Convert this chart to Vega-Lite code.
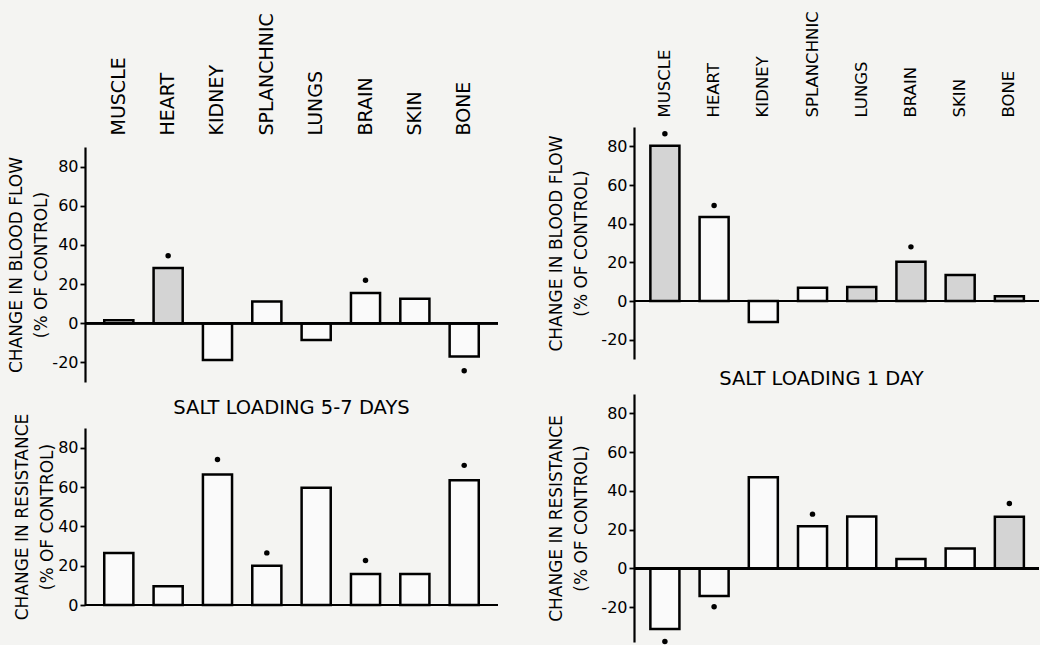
{
  "$schema": "https://vega.github.io/schema/vega-lite/v6.json",
  "background": "#f4f4f2",
  "padding": {"left": 7, "top": 10, "right": 0, "bottom": 0},
  "config": {
    "font": "DejaVu Sans",
    "view": {"stroke": null},
    "axisY": {
      "domainColor": "black", "domainWidth": 2.2, "tickColor": "black", "tickWidth": 1.8, "tickSize": 5,
      "labelFontSize": 16, "labelColor": "black", "labelPadding": 2, "grid": false,
      "titleFontSize": 17, "titleFontWeight": "normal", "titleColor": "black", "titlePadding": 1, "titleLineHeight": 25
    },
    "title": {"fontSize": 19.5, "fontWeight": "normal", "color": "black", "anchor": "middle"}
  },
  "datasets": {
    "d": [
      {"panel": "flow57", "organ": "MUSCLE", "value": 1.5, "shade": "open"},
      {"panel": "flow57", "organ": "HEART", "value": 28.2, "sig": 34.5, "shade": "shaded"},
      {"panel": "flow57", "organ": "KIDNEY", "value": -18.8, "shade": "open"},
      {"panel": "flow57", "organ": "SPLANCHNIC", "value": 11.1, "shade": "open"},
      {"panel": "flow57", "organ": "LUNGS", "value": -8.5, "shade": "open"},
      {"panel": "flow57", "organ": "BRAIN", "value": 15.4, "sig": 21.9, "shade": "open"},
      {"panel": "flow57", "organ": "SKIN", "value": 12.5, "shade": "open"},
      {"panel": "flow57", "organ": "BONE", "value": -17, "sig": -24.3, "shade": "open"},
      {"panel": "res57", "organ": "MUSCLE", "value": 26.5, "shade": "open"},
      {"panel": "res57", "organ": "HEART", "value": 9.5, "shade": "open"},
      {"panel": "res57", "organ": "KIDNEY", "value": 66.4, "sig": 74, "shade": "open"},
      {"panel": "res57", "organ": "SPLANCHNIC", "value": 20, "sig": 26.5, "shade": "open"},
      {"panel": "res57", "organ": "LUNGS", "value": 59.6, "shade": "open"},
      {"panel": "res57", "organ": "BRAIN", "value": 15.8, "sig": 22.6, "shade": "open"},
      {"panel": "res57", "organ": "SKIN", "value": 15.8, "shade": "open"},
      {"panel": "res57", "organ": "BONE", "value": 63.4, "sig": 71, "shade": "open"},
      {"panel": "flow1", "organ": "MUSCLE", "value": 80.3, "sig": 86.5, "shade": "shaded"},
      {"panel": "flow1", "organ": "HEART", "value": 43.4, "sig": 49.4, "shade": "open"},
      {"panel": "flow1", "organ": "KIDNEY", "value": -10.8, "shade": "open"},
      {"panel": "flow1", "organ": "SPLANCHNIC", "value": 6.9, "shade": "open"},
      {"panel": "flow1", "organ": "LUNGS", "value": 7.2, "shade": "shaded"},
      {"panel": "flow1", "organ": "BRAIN", "value": 20.3, "sig": 28, "shade": "shaded"},
      {"panel": "flow1", "organ": "SKIN", "value": 13.4, "shade": "shaded"},
      {"panel": "flow1", "organ": "BONE", "value": 2.5, "shade": "shaded"},
      {"panel": "res1", "organ": "MUSCLE", "value": -31.3, "sig": -37.8, "shade": "open"},
      {"panel": "res1", "organ": "HEART", "value": -14.3, "sig": -19.8, "shade": "open"},
      {"panel": "res1", "organ": "KIDNEY", "value": 47, "shade": "open"},
      {"panel": "res1", "organ": "SPLANCHNIC", "value": 21.7, "sig": 28, "shade": "open"},
      {"panel": "res1", "organ": "LUNGS", "value": 26.8, "shade": "open"},
      {"panel": "res1", "organ": "BRAIN", "value": 4.8, "shade": "open"},
      {"panel": "res1", "organ": "SKIN", "value": 10.3, "shade": "open"},
      {"panel": "res1", "organ": "BONE", "value": 26.7, "sig": 33.5, "shade": "shaded"}
    ]
  },
  "data": {"name": "d"},
  "spacing": 48,
  "hconcat": [
    {
      "bounds": "flush",
      "spacing": 19,
      "vconcat": [
        {"width": 413, "height": 1, "data": {"values": []}, "mark": {"type": "point"}, "encoding": {}},
        {
          "bounds": "flush",
          "spacing": 46,
          "vconcat": [
            {
              "width": 413, "height": 235,
              "transform": [{"filter": "datum.panel === 'flow57'"}],
              "layer": [
                {
                  "mark": {"type": "bar", "stroke": "black", "strokeWidth": 2.5},
                  "encoding": {
                    "x": {"field": "organ", "type": "nominal", "sort": ["MUSCLE","HEART","KIDNEY","SPLANCHNIC","LUNGS","BRAIN","SKIN","BONE"],
                      "scale": {"paddingInner": 0.41, "paddingOuter": 0.39, "align": 0.5},
                      "axis": {"orient": "top", "labelAngle": -90, "labelAlign": "left", "labelBaseline": "middle", "labelFontSize": 19, "labelPadding": 12, "labelColor": "black", "domain": false, "ticks": false, "title": null}},
                    "y": {"field": "value", "type": "quantitative", "scale": {"domain": [-30, 90], "nice": false, "zero": false},
                      "axis": {"values": [-20, 0, 20, 40, 60, 80], "labelExpr": "replace(datum.label, '\u2212', '-')", "title": ["CHANGE IN BLOOD FLOW", "(% OF CONTROL)"]}},
                    "fill": {"field": "shade", "type": "nominal", "scale": {"domain": ["open", "shaded"], "range": ["#fafafa", "#d4d4d4"]}, "legend": null}
                  }
                },
                {"mark": {"type": "rule", "color": "black", "strokeWidth": 2}, "encoding": {"y": {"datum": 0}}},
                {
                  "mark": {"type": "point", "filled": true, "color": "black", "size": 30, "opacity": 1},
                  "encoding": {
                    "x": {"field": "organ", "type": "nominal", "sort": ["MUSCLE","HEART","KIDNEY","SPLANCHNIC","LUNGS","BRAIN","SKIN","BONE"]},
                    "y": {"field": "sig", "type": "quantitative", "axis": {"values": [-20, 0, 20, 40, 60, 80], "labelExpr": "replace(datum.label, '\u2212', '-')", "title": ["CHANGE IN BLOOD FLOW", "(% OF CONTROL)"]}}
                  }
                }
              ]
            },
            {
              "width": 413, "height": 177,
              "title": {"text": "SALT LOADING 5-7 DAYS", "offset": -5},
              "transform": [{"filter": "datum.panel === 'res57'"}],
              "layer": [
                {
                  "mark": {"type": "bar", "stroke": "black", "strokeWidth": 2.5},
                  "encoding": {
                    "x": {"field": "organ", "type": "nominal", "sort": ["MUSCLE","HEART","KIDNEY","SPLANCHNIC","LUNGS","BRAIN","SKIN","BONE"],
                      "scale": {"paddingInner": 0.41, "paddingOuter": 0.39, "align": 0.5}, "axis": null},
                    "y": {"field": "value", "type": "quantitative", "scale": {"domain": [0, 90], "nice": false},
                      "axis": {"values": [0, 20, 40, 60, 80], "title": ["CHANGE IN RESISTANCE", "(% OF CONTROL)"]}},
                    "fill": {"field": "shade", "type": "nominal", "scale": {"domain": ["open", "shaded"], "range": ["#fafafa", "#d4d4d4"]}, "legend": null}
                  }
                },
                {"mark": {"type": "rule", "color": "black", "strokeWidth": 2}, "encoding": {"y": {"datum": 0}}},
                {
                  "mark": {"type": "point", "filled": true, "color": "black", "size": 30, "opacity": 1},
                  "encoding": {
                    "x": {"field": "organ", "type": "nominal", "sort": ["MUSCLE","HEART","KIDNEY","SPLANCHNIC","LUNGS","BRAIN","SKIN","BONE"]},
                    "y": {"field": "sig", "type": "quantitative", "axis": {"values": [0, 20, 40, 60, 80], "title": ["CHANGE IN RESISTANCE", "(% OF CONTROL)"]}}
                  }
                }
              ]
            }
          ]
        }
      ]
    },
    {
      "bounds": "flush",
      "spacing": 35,
      "vconcat": [
        {
          "width": 405, "height": 232,
          "transform": [{"filter": "datum.panel === 'flow1'"}],
          "layer": [
            {
              "mark": {"type": "bar", "stroke": "black", "strokeWidth": 2.5},
              "encoding": {
                "x": {"field": "organ", "type": "nominal", "sort": ["MUSCLE","HEART","KIDNEY","SPLANCHNIC","LUNGS","BRAIN","SKIN","BONE"],
                  "scale": {"paddingInner": 0.41, "paddingOuter": 0.32, "align": 0.52},
                  "axis": {"orient": "top", "labelAngle": -90, "labelAlign": "left", "labelBaseline": "middle", "labelFontSize": 16.5, "labelPadding": 10, "labelColor": "black", "domain": false, "ticks": false, "title": null}},
                "y": {"field": "value", "type": "quantitative", "scale": {"domain": [-30, 90], "nice": false, "zero": false},
                  "axis": {"values": [-20, 0, 20, 40, 60, 80], "labelExpr": "replace(datum.label, '\u2212', '-')", "titlePadding": 10, "title": ["CHANGE IN BLOOD FLOW", "(% OF CONTROL)"]}},
                "fill": {"field": "shade", "type": "nominal", "scale": {"domain": ["open", "shaded"], "range": ["#fafafa", "#d4d4d4"]}, "legend": null}
              }
            },
            {"mark": {"type": "rule", "color": "black", "strokeWidth": 2}, "encoding": {"y": {"datum": 0}}},
            {
              "mark": {"type": "point", "filled": true, "color": "black", "size": 30, "opacity": 1},
              "encoding": {
                "x": {"field": "organ", "type": "nominal", "sort": ["MUSCLE","HEART","KIDNEY","SPLANCHNIC","LUNGS","BRAIN","SKIN","BONE"]},
                "y": {"field": "sig", "type": "quantitative", "axis": {"values": [-20, 0, 20, 40, 60, 80], "labelExpr": "replace(datum.label, '\u2212', '-')", "titlePadding": 10, "title": ["CHANGE IN BLOOD FLOW", "(% OF CONTROL)"]}}
              }
            }
          ]
        },
        {
          "width": 405, "height": 248,
          "title": {"text": "SALT LOADING 1 DAY", "offset": 5, "dx": -15},
          "transform": [{"filter": "datum.panel === 'res1'"}],
          "layer": [
            {
              "mark": {"type": "bar", "stroke": "black", "strokeWidth": 2.5},
              "encoding": {
                "x": {"field": "organ", "type": "nominal", "sort": ["MUSCLE","HEART","KIDNEY","SPLANCHNIC","LUNGS","BRAIN","SKIN","BONE"],
                  "scale": {"paddingInner": 0.41, "paddingOuter": 0.32, "align": 0.52}, "axis": null},
                "y": {"field": "value", "type": "quantitative", "scale": {"domain": [-38, 90], "nice": false, "zero": false},
                  "axis": {"values": [-20, 0, 20, 40, 60, 80], "labelExpr": "replace(datum.label, '\u2212', '-')", "titlePadding": 10, "title": ["CHANGE IN RESISTANCE", "(% OF CONTROL)"]}},
                "fill": {"field": "shade", "type": "nominal", "scale": {"domain": ["open", "shaded"], "range": ["#fafafa", "#d4d4d4"]}, "legend": null}
              }
            },
            {"mark": {"type": "rule", "color": "black", "strokeWidth": 2}, "encoding": {"y": {"datum": 0}}},
            {
              "mark": {"type": "point", "filled": true, "color": "black", "size": 30, "opacity": 1},
              "encoding": {
                "x": {"field": "organ", "type": "nominal", "sort": ["MUSCLE","HEART","KIDNEY","SPLANCHNIC","LUNGS","BRAIN","SKIN","BONE"]},
                "y": {"field": "sig", "type": "quantitative", "axis": {"values": [-20, 0, 20, 40, 60, 80], "labelExpr": "replace(datum.label, '\u2212', '-')", "titlePadding": 10, "title": ["CHANGE IN RESISTANCE", "(% OF CONTROL)"]}}
              }
            }
          ]
        }
      ]
    }
  ]
}
